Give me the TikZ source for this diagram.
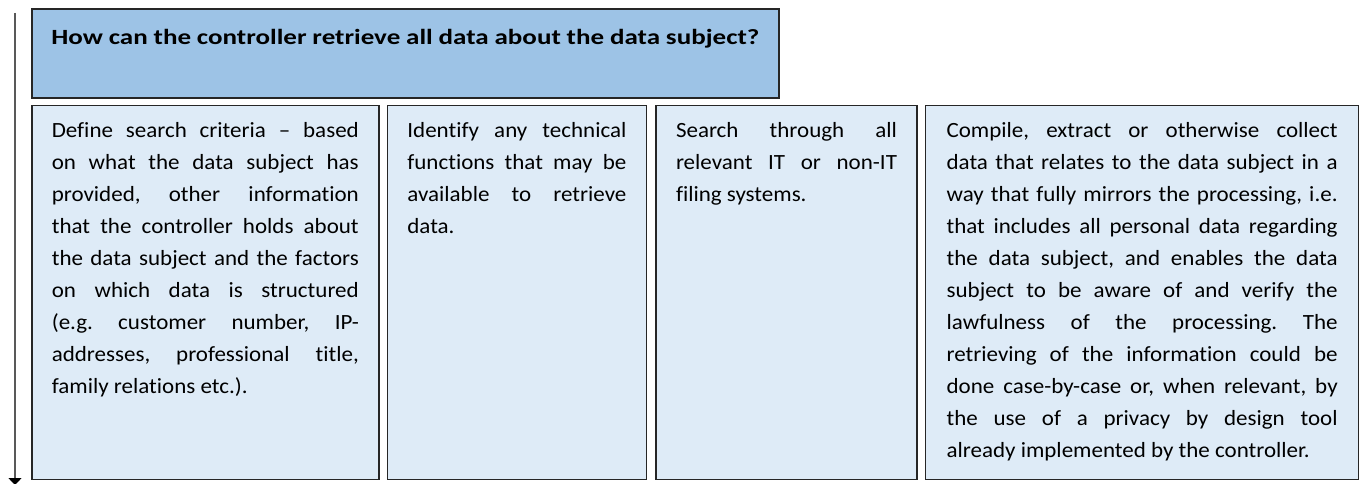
\documentclass[tikz,border=0pt]{standalone}
\usepackage{fontspec}
\setmainfont{Carlito}[FakeStretch=1.06, Ligatures=NoCommon]
\newfontfamily\headfont{Carlito}[FakeStretch=1.245, Ligatures=NoCommon]
\usetikzlibrary{arrows.meta,positioning}
\definecolor{headblue}{HTML}{9DC3E6}
\definecolor{cellblue}{HTML}{DEEBF7}
\definecolor{rimgrey}{HTML}{262626}
\definecolor{flowgrey}{HTML}{595959}
\newcommand{\celltext}[2]{\parbox[c][354pt][t]{#1}{\fontsize{21.7}{32}\selectfont\frenchspacing
  \tolerance=10000\hyphenpenalty=10000\strut #2}}

\begin{document}
\begin{tikzpicture}[x=1pt,y=-1pt,
  headbox/.style={draw=rimgrey, line width=1.6pt, fill=headblue, inner sep=0pt,
    minimum width=747pt, minimum height=89pt, anchor=north west},
  cellbox/.style={draw=rimgrey, line width=1.6pt, fill=cellblue, inner sep=0pt,
    minimum height=374pt},
  flowline/.style={draw=flowgrey, line width=1.5pt, -{Triangle[width=13pt,length=7pt,color=black]}}]
			%%%%% START %%%%%
			\useasboundingbox (0,0) rectangle (1359,484);
			
			\node[headbox] (head) at (31,8)
			  {\parbox[c][62pt][t]{708pt}{\headfont\fontsize{21.7}{32}\selectfont\bfseries\strut How can the controller retrieve all data about the data subject?}};
			
			\node[cellbox, minimum width=347pt, below right=6pt and 0pt of head.south west] (crit)
			  {\celltext{307pt}{Define search criteria -- based\linebreak on what the data subject has\linebreak provided, other information\linebreak that the controller holds about\linebreak the data subject and the factors\linebreak on which data is structured\linebreak (e.g. customer number, IP-\linebreak addresses, professional title,\linebreak family relations etc.).}};
			\node[cellbox, minimum width=259pt, right=7pt of crit] (func)
			  {\celltext{219pt}{Identify any technical\linebreak functions that may be\linebreak available to retrieve\linebreak data.}};
			\node[cellbox, minimum width=261pt, right=8pt of func] (search)
			  {\celltext{221pt}{Search through all\linebreak relevant IT or non-IT\linebreak filing systems.}};
			\node[cellbox, minimum width=433pt, right=7pt of search] (collect)
			  {\celltext{391pt}{Compile, extract or otherwise collect\linebreak data that relates to the data subject in a\linebreak way that fully mirrors the processing, i.e.\linebreak that includes all personal data regarding\linebreak the data subject, and enables the data\linebreak subject to be aware of and verify the\linebreak lawfulness of the processing. The\linebreak retrieving of the information could be\linebreak done case-by-case or, when relevant, by\linebreak the use of a privacy by design tool\linebreak already implemented by the controller.}};
			
			\coordinate (flowtop) at (15,13);
			\coordinate (flowend) at (15,485);
			\draw[flowline] (flowtop) -- (flowend);
			%%%%% END %%%%%
\end{tikzpicture}
\end{document}
